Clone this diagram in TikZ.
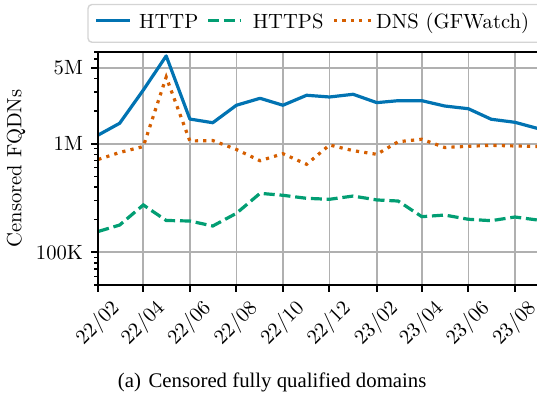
\documentclass[tikz,border=0pt]{standalone}
\usepackage{fontspec}
\newfontfamily\capfont{Liberation Serif}
\definecolor{cblue}{HTML}{0173B2}
\definecolor{cgreen}{HTML}{029E73}
\definecolor{corange}{HTML}{D55E00}
\definecolor{gridgray}{HTML}{B0B0B0}
\definecolor{legedge}{HTML}{D4D4D4}
\tikzset{
  gridline/.style={draw=gridgray, line width=0.85pt},
  spine/.style={draw=black, line width=1pt},
  minortick/.style={draw=black, line width=0.7pt},
  httpline/.style={draw=cblue, line width=1.6pt, line join=round},
  httpsline/.style={draw=cgreen, line width=1.6pt, dash pattern=on 5.5pt off 2.4pt},
  dnsline/.style={draw=corange, line width=1.6pt, dash pattern=on 1.6pt off 2.6pt},
  ticklabel/.style={inner sep=0pt},
  legendbox/.style={draw=legedge, fill=white, line width=0.7pt, rounded corners=2pt},
}
\begin{document}
\begin{tikzpicture}[x=0.5pt, y=-0.5pt, font=\fontsize{10.3}{12}\selectfont]
\useasboundingbox (0,0) rectangle (537,394);

% ---- data frame: x in days from 2022-02-01, y in log10(value)
\begin{scope}[xshift=49.15pt, yshift=-397.65pt, x=0.3815pt, y=54.3pt]
  % grid
  \foreach \d in {0,59,120,181,242,303,365,424,485,546}
    \draw[gridline] (\d,4.699) -- (\d,6.845);
  \foreach \L in {5,6,6.699}
    \draw[gridline] (0,\L) -- (640,\L);

  % data
  \draw[httpsline] plot coordinates {(0,5.192)(28,5.251)(59,5.436)(89,5.293)(120,5.288)(150,5.242)(181,5.359)(212,5.543)(242,5.525)(273,5.497)(303,5.488)(334,5.518)(365,5.482)(393,5.472)(424,5.328)(454,5.343)(485,5.304)(515,5.291)(546,5.325)(577,5.296)};
  \draw[dnsline] plot coordinates {(0,5.855)(28,5.919)(59,5.974)(89,6.614)(120,6.025)(150,6.029)(181,5.947)(212,5.843)(242,5.908)(273,5.810)(303,5.988)(334,5.936)(365,5.902)(393,6.018)(424,6.041)(454,5.965)(485,5.976)(515,5.985)(546,5.979)(577,5.974)};
  \draw[httpline] plot coordinates {(0,6.080)(28,6.188)(59,6.494)(89,6.808)(120,6.227)(150,6.193)(181,6.354)(212,6.418)(242,6.354)(273,6.446)(303,6.430)(334,6.455)(365,6.378)(393,6.396)(424,6.396)(454,6.347)(485,6.322)(515,6.225)(546,6.197)(577,6.138)};

  % spines
  \draw[spine] (640,6.845) -- (0,6.845) -- (0,4.699) -- (640,4.699);

  % x ticks and labels
  \foreach \d/\lab in {0/22\slash 02,59/22\slash 04,120/22\slash 06,181/22\slash 08,242/22\slash 10,303/22\slash 12,365/23\slash 02,424/23\slash 04,485/23\slash 06,546/23\slash 08}{
    \draw[spine] (\d,4.699) -- ++(0,-3.6pt);
    \node[ticklabel, rotate=45, anchor=center] (xl\d) at (\d,4.344) {\lab};
  }

  % y major ticks and labels
  \foreach \L/\lab in {5/100K,6/1M,6.699/5M}{
    \draw[spine] (0,\L) -- ++(-3.75pt,0);
    \node[ticklabel, anchor=base east, xshift=-7.5pt, yshift=-3.5pt] (yl\lab) at (0,\L) {\lab};
  }
  % y minor ticks
  \foreach \L in {4.699,4.7782,4.8451,4.9031,4.9542,5.3010,5.4771,5.6021,5.6990,5.7782,5.8451,5.9031,5.9542,6.3010,6.4771,6.6021,6.7782,6.8451}
    \draw[minortick] (0,\L) -- ++(-2.25pt,0);
\end{scope}

% y axis label
\node[ticklabel, rotate=90] (ylabel) at (16,168.5) {Censored FQDNs};

% legend
\draw[legendbox] (88,4.5) rectangle (570,42.3);
\coordinate (l1a) at (96,20.7);  \coordinate (l1b) at (130,20.7);
\coordinate (l2a) at (208,20.7); \coordinate (l2b) at (240,20.7);
\coordinate (l3a) at (334,20.7); \coordinate (l3b) at (372,20.7);
\draw[httpline] (l1a) -- (l1b);
\draw[httpsline] (l2a) -- (l2b);
\draw[dnsline] (l3a) -- (l3b);
\node[ticklabel, anchor=base west] (t1) at (138.7,28.3) {HTTP};
\node[ticklabel, anchor=base west] (t2) at (252.4,28.3) {HTTPS};
\node[ticklabel, anchor=base west] (t3) at (375.7,28.3) {DNS (GFWatch)};

% caption
\node[ticklabel, anchor=base west, font=\capfont\fontsize{10.4}{12}\selectfont] (cap) at (117.5,387.5) {(a)\hspace{3.8pt}Censored fully qualified domains};
\end{tikzpicture}
\end{document}
